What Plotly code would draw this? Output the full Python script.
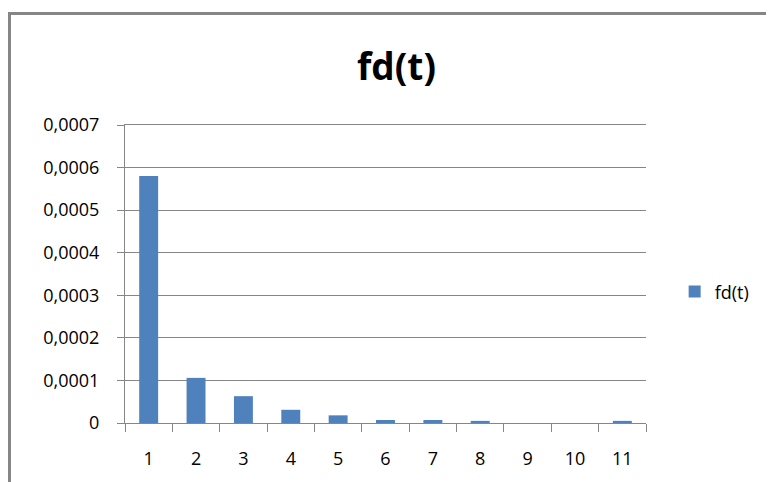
import plotly.graph_objects as go

categories = ["1", "2", "3", "4", "5", "6", "7", "8", "9", "10", "11"]
values = [0.00058, 0.000106, 0.000063, 0.000031, 0.000018, 0.000007, 0.000007, 0.000005, 0.0, 0.0, 0.000005]
series_name = "fd(t)"
title_text = "fd(t)"

GRAY = "#868686"
BLUE = "#4F81BD"
FONT = "Open Sans"

# page body offset of 8px is compensated in the margins
L, R, T, B = 117, 136, 117, 67
PW = 774 - L - R
PH = 482 - T - B

fig = go.Figure()
fig.add_trace(go.Bar(x=categories, y=values, name=series_name, marker=dict(color=BLUE, line=dict(width=0)),
                     showlegend=True))

fig.update_layout(
    width=774, height=482,
    margin=dict(l=L, r=R, t=T, b=B),
    paper_bgcolor="white", plot_bgcolor="white",
    separators=",.",
    bargap=0.6,
    font=dict(family=FONT, size=18, color="#000000"),
    title=dict(text="<b>" + title_text + "</b>", x=(388.5 - L) / PW, xanchor="center", xref="paper",
               y=1 - 59 / 482, yanchor="middle", yref="container",
               font=dict(family=FONT, size=37, color="#000000")),
    showlegend=True,
    legend=dict(x=1.055, xanchor="left", y=0.44, yanchor="middle",
                font=dict(family=FONT, size=18, color="#000000"),
                bgcolor="rgba(0,0,0,0)", itemwidth=30),
    xaxis=dict(type="category", showline=True, mirror=True, linecolor=GRAY, linewidth=1,
               ticks="outside", ticklen=8, tickcolor=GRAY, tickson="boundaries",
               showgrid=False, tickfont=dict(size=18), ticklabelstandoff=19),
    yaxis=dict(range=[0, 0.00070001], dtick=0.0001, tick0=0, tickformat="~g",
               showline=True, linecolor=GRAY, linewidth=1,
               ticks="outside", ticklen=7, tickcolor=GRAY,
               showgrid=True, gridcolor=GRAY, gridwidth=1,
               zeroline=False, tickfont=dict(size=18), ticklabelstandoff=14),
    shapes=[dict(type="rect", xref="paper", yref="paper",
                 x0=(1.5 - L) / PW, x1=(800 - L) / PW,
                 y0=(PH + T - 500) / PH, y1=(PH + T - 5.5) / PH,
                 line=dict(color=GRAY, width=3), fillcolor="rgba(0,0,0,0)", layer="below")],
)

fig.write_html("out.html")
